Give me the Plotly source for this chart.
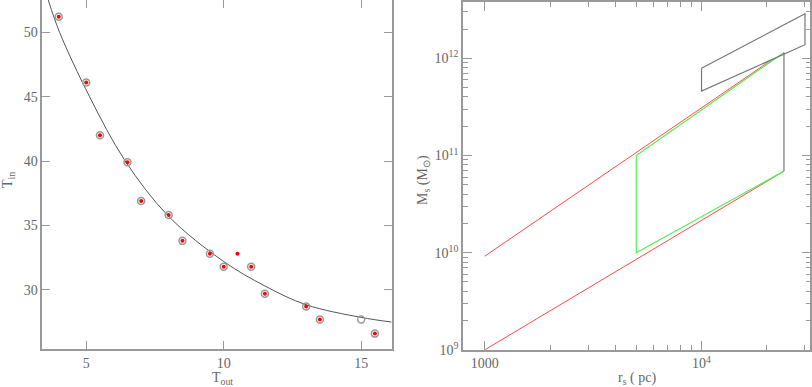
import plotly.graph_objects as go

# linker paneel: T_in tegen T_out
t_out = [4, 5, 5.5, 6.5, 7, 8, 8.5, 9.5, 10, 11, 11.5, 13, 13.5, 15.5]
t_in = [51.2, 46.1, 42.0, 39.9, 36.9, 35.8, 33.8, 32.8, 31.8, 31.8, 29.7, 28.7, 27.7, 26.6]
# losse punten: alleen rode stip / alleen open cirkel
t_out_dot = [10.5]
t_in_dot = [32.8]
t_out_open = [15]
t_in_open = [27.7]
curve_x = [3.62, 4.03, 5.12, 6.42, 8, 10, 11.5, 13, 15, 16.1]
curve_y = [52.5, 50.0, 45.0, 40.0, 35.7, 32.2, 30.3, 28.84, 27.86, 27.5]

# rechter paneel: M_s tegen r_s
red_up_x = [1000, 21000]
red_up_y = [9.2e9, 9.6e11]
red_low_x = [1000, 24000]
red_low_y = [1e9, 6.9e10]
green_x = [24000, 5000, 5000, 24000]
green_y = [1.15e12, 1e11, 1e10, 6.9e10]
black_x = [10000, 30000, 30000, 10000, 10000]
black_y = [7.9e11, 2.87e12, 1.38e12, 4.6e11, 7.9e11]
black_v_x = [24000, 24000]
black_v_y = [1.15e12, 6.9e10]

fig = go.Figure()

fig.add_trace(go.Scatter(x=curve_x, y=curve_y, mode="lines", line_shape="spline",
                         line=dict(color="#555", width=1), xaxis="x", yaxis="y"))
fig.add_trace(go.Scatter(x=t_out + t_out_open, y=t_in + t_in_open, mode="markers",
                         marker=dict(symbol="circle-open", size=7, color="#999", line=dict(width=1.5)),
                         xaxis="x", yaxis="y"))
fig.add_trace(go.Scatter(x=t_out + t_out_dot, y=t_in + t_in_dot, mode="markers",
                         marker=dict(size=4, color="red"), xaxis="x", yaxis="y"))

fig.add_trace(go.Scatter(x=red_up_x, y=red_up_y, mode="lines", line=dict(color="#ff4a4a", width=1),
                         xaxis="x2", yaxis="y2"))
fig.add_trace(go.Scatter(x=red_low_x, y=red_low_y, mode="lines", line=dict(color="#ff4a4a", width=1),
                         xaxis="x2", yaxis="y2"))
fig.add_trace(go.Scatter(x=green_x, y=green_y, mode="lines", line=dict(color="#55ee55", width=1.2),
                         xaxis="x2", yaxis="y2"))
fig.add_trace(go.Scatter(x=black_x, y=black_y, mode="lines", line=dict(color="#777", width=1.2),
                         xaxis="x2", yaxis="y2"))
fig.add_trace(go.Scatter(x=black_v_x, y=black_v_y, mode="lines", line=dict(color="#777", width=1.2),
                         xaxis="x2", yaxis="y2"))

font = dict(family="Liberation Serif", size=14, color="#666")
axstyle = dict(showgrid=False, zeroline=False, showline=True, mirror="ticks", linecolor="#999",
               linewidth=1.5, ticks="inside", tickcolor="#999", tickfont=font, automargin=False)

fig.update_layout(
    width=812, height=387, margin=dict(l=0, r=0, t=0, b=0),
    paper_bgcolor="white", plot_bgcolor="white", showlegend=False,
    xaxis=dict(domain=[0.052, 0.483], range=[3.4, 16.13], tickvals=[5, 10, 15], ticklen=8,
               anchor="y", **axstyle),
    yaxis=dict(domain=[0.098, 1.0], range=[25.4, 52.5], tickvals=[30, 35, 40, 45, 50], ticklen=8,
               anchor="x", **axstyle),
    xaxis2=dict(domain=[0.570, 0.998], type="log", range=[2.899, 4.502],
                tickvals=[1000, 10000], ticktext=["1000", "10<sup>4</sup>"], ticklen=9,
                minor=dict(tickvals=[2000, 3000, 4000, 5000, 6000, 7000, 8000, 9000, 20000, 30000],
                           ticks="inside", ticklen=5, tickcolor="#999"),
                anchor="y2", **axstyle),
    yaxis2=dict(domain=[0.096, 0.995], type="log", range=[9, 12.58],
                tickvals=[1e9, 1e10, 1e11, 1e12],
                ticktext=["10<sup>9</sup>", "10<sup>10</sup>", "10<sup>11</sup>", "10<sup>12</sup>"], ticklen=9,
                minor=dict(tickvals=[k * 10 ** e for e in (9, 10, 11, 12) for k in range(2, 10)],
                           ticks="inside", ticklen=5, tickcolor="#999"),
                anchor="x2", **axstyle),
)

# astitels als annotaties
titels = [
    ("T<sub>out</sub>", 222 / 812, 1 - 378 / 387, 0),
    ("T<sub>in</sub>", 9 / 812, 1 - 180 / 387, -90),
    ("r<sub>s</sub> ( pc)", 637 / 812, 1 - 378 / 387, 0),
    ("M<sub>s</sub> (M<sub>⊙</sub>)", 424 / 812, 1 - 180 / 387, -90),
]
for tekst, x, y, hoek in titels:
    fig.add_annotation(text=tekst, x=x, y=y, xref="paper", yref="paper", showarrow=False,
                       textangle=hoek, font=font, xanchor="center", yanchor="middle")

fig.write_html("out.html", config={"displayModeBar": False},
               post_script="document.body.style.margin='0';")
